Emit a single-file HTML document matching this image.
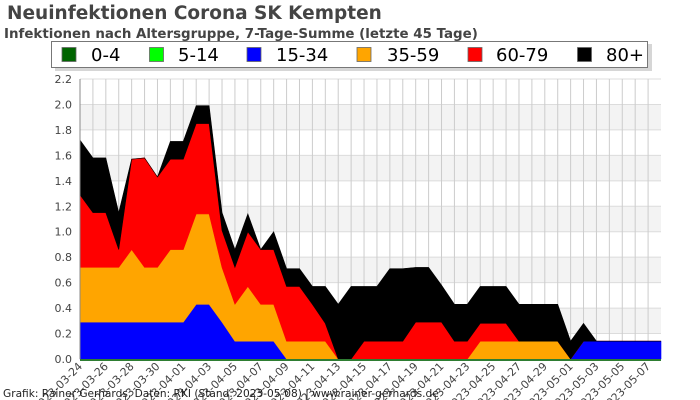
<!DOCTYPE html>
<html><head><meta charset="utf-8">
<style>
body{margin:0;background:#fff;}
svg{display:block;font-family:"DejaVu Sans","Liberation Sans",sans-serif;}
</style></head>
<body>
<svg id="chart" width="700" height="400" viewBox="0 0 700 400">
<text x="7" y="19" font-size="18.5" font-weight="bold" fill="#444">Neuinfektionen Corona SK Kempten</text>
<text x="4" y="38" font-size="13.4" font-weight="bold" fill="#444">Infektionen nach Altersgruppe, 7-Tage-Summe (letzte 45 Tage)</text>
<g id="plot"></g>
<g id="legend"></g>
<text x="3" y="397" font-size="10.6" fill="#222">Grafik: Rainer Gerhards, Daten: RKI (Stand: 2023-05-08) | www.rainer-gerhards.de</text>
</svg>
<script>
const dates=["2023-03-24","2023-03-26","2023-03-28","2023-03-30","2023-04-01","2023-04-03","2023-04-05","2023-04-07","2023-04-09","2023-04-11","2023-04-13","2023-04-15","2023-04-17","2023-04-19","2023-04-21","2023-04-23","2023-04-25","2023-04-27","2023-04-29","2023-05-01","2023-05-03","2023-05-05","2023-05-07"];
const yTicks=[0,0.2,0.4,0.6,0.8,1.0,1.2,1.4,1.6,1.8,2.0,2.2];
const seriesNames=["0-4","5-14","15-34","35-59","60-79","80+"];
const seriesColors=["#006400","#00ff00","#0000ff","#ffa500","#ff0000","#000000"];
const s0_4=[0,0,0,0,0,0,0,0,0,0,0,0,0,0,0,0,0,0,0,0,0,0,0,0,0,0,0,0,0,0,0,0,0,0,0,0,0,0,0,0,0,0,0,0,0,0];
const s5_14=[0,0,0,0,0,0,0,0,0,0,0,0,0,0,0,0,0,0,0,0,0,0,0,0,0,0,0,0,0,0,0,0,0,0,0,0,0,0,0,0,0,0,0,0,0,0];
const s15_34=[0.29,0.29,0.29,0.29,0.29,0.29,0.29,0.29,0.29,0.43,0.43,0.29,0.14,0.14,0.14,0.14,0,0,0,0,0,0,0,0,0,0,0,0,0,0,0,0,0,0,0,0,0,0,0,0.14,0.14,0.14,0.14,0.14,0.14,0.14];
const s35_59=[0.43,0.43,0.43,0.43,0.57,0.43,0.43,0.57,0.57,0.71,0.71,0.43,0.29,0.43,0.29,0.29,0.14,0.14,0.14,0.14,0,0,0,0,0,0,0,0,0,0,0,0.14,0.14,0.14,0.14,0.14,0.14,0.14,0,0,0,0,0,0,0,0];
const s60_79=[0.57,0.43,0.43,0.14,0.71,0.86,0.71,0.71,0.71,0.71,0.71,0.29,0.29,0.43,0.43,0.43,0.43,0.43,0.29,0.14,0,0,0.14,0.14,0.14,0.14,0.29,0.29,0.29,0.14,0.14,0.14,0.14,0.14,0,0,0,0,0,0,0,0,0,0,0,0];
const s80=[0.43,0.43,0.43,0.29,0,0,0,0.14,0.14,0.14,0.14,0.14,0.14,0.14,0,0.14,0.14,0.14,0.14,0.29,0.43,0.57,0.43,0.43,0.57,0.57,0.43,0.43,0.29,0.29,0.29,0.29,0.29,0.29,0.29,0.29,0.29,0.29,0.14,0.14,0,0,0,0,0,0];

const NS="http://www.w3.org/2000/svg";
const X0=80,X1=661,Y0=359,Y1=79,YMAX=2.2,NPTS=s80.length;
const xs=i=>X0+(X1-X0)*i/(NPTS-1);
const ys=v=>Y0-(Y0-Y1)*v/YMAX;
function mk(tag,attrs,parent){const e=document.createElementNS(NS,tag);for(const k in attrs)e.setAttribute(k,attrs[k]);parent.appendChild(e);return e;}
const plot=document.getElementById('plot');
for(let t=0;t<yTicks.length-1;t++){
  if(t%2===1){
    const r=mk('rect',{x:X0,y:ys(yTicks[t+1]),width:X1-X0,height:ys(yTicks[t])-ys(yTicks[t+1]),fill:'#f3f3f3'},plot);
    
    
  }
}
yTicks.forEach(v=>{
  const l=mk('line',{x1:X0,x2:X1,y1:ys(v),y2:ys(v),stroke:'#dcdcdc','stroke-width':1},plot);
  
  
  const t=mk('text',{x:72,y:ys(v)+4,'font-size':11,'text-anchor':'end',fill:'#444'},plot);
  t.textContent=v.toFixed(1);
  
  
});
for(let i=1;i<NPTS-1;i++){
  const l=mk('line',{x1:xs(i),x2:xs(i),y1:Y1,y2:Y0,stroke:'#cccccc','stroke-width':1},plot);
  
  
}
const series=[s0_4,s5_14,s15_34,s35_59,s60_79,s80];
let base=new Array(NPTS).fill(0);
series.forEach((s,k)=>{
  const top=base.map((b,i)=>b+s[i]);
  let d='M'+xs(0)+','+ys(top[0]);
  for(let i=1;i<NPTS;i++)d+=' L'+xs(i)+','+ys(top[i]);
  for(let i=NPTS-1;i>=0;i--)d+=' L'+xs(i)+','+ys(base[i]);
  d+='Z';
  const p=mk('path',{d:d,fill:seriesColors[k],stroke:seriesColors[k],'stroke-width':0.6},plot);
  
  
  base=top;
});
const ax=mk('line',{x1:X0,x2:X0,y1:Y1,y2:Y0,stroke:'#888','stroke-width':1},plot);


const bx=mk('line',{x1:X0,x2:X1,y1:Y0+1,y2:Y0+1,stroke:'#2e7d32','stroke-width':2},plot);


dates.forEach((d,j)=>{
  const x=xs(j*2);
  const t=mk('text',{x:x+3,y:Y0+8,'font-size':11,'text-anchor':'end',fill:'#444',transform:'rotate(-45 '+(x+3)+' '+(Y0+8)+')'},plot);
  t.textContent=d;
  
  
});
const lg=document.getElementById('legend');
mk('rect',{x:55,y:44,width:597,height:27,fill:'#bbb',opacity:0.6},lg);
const box=mk('rect',{x:51.5,y:41.5,width:596,height:26,fill:'#fff',stroke:'#777','stroke-width':1},lg);


const swX=[62,149.5,247,357,468,577.5];
const txX=[91,178,276,387,496,606];
seriesNames.forEach((n,k)=>{
  const g=mk('g',{},lg);
  
  
  mk('rect',{x:swX[k],y:47.5,width:14,height:14,fill:seriesColors[k],stroke:'#666','stroke-width':0.8},g);
  const t=mk('text',{x:txX[k],y:61,'font-size':18,fill:'#000'},g);
  t.textContent=n;
});
</script>
</body></html>
